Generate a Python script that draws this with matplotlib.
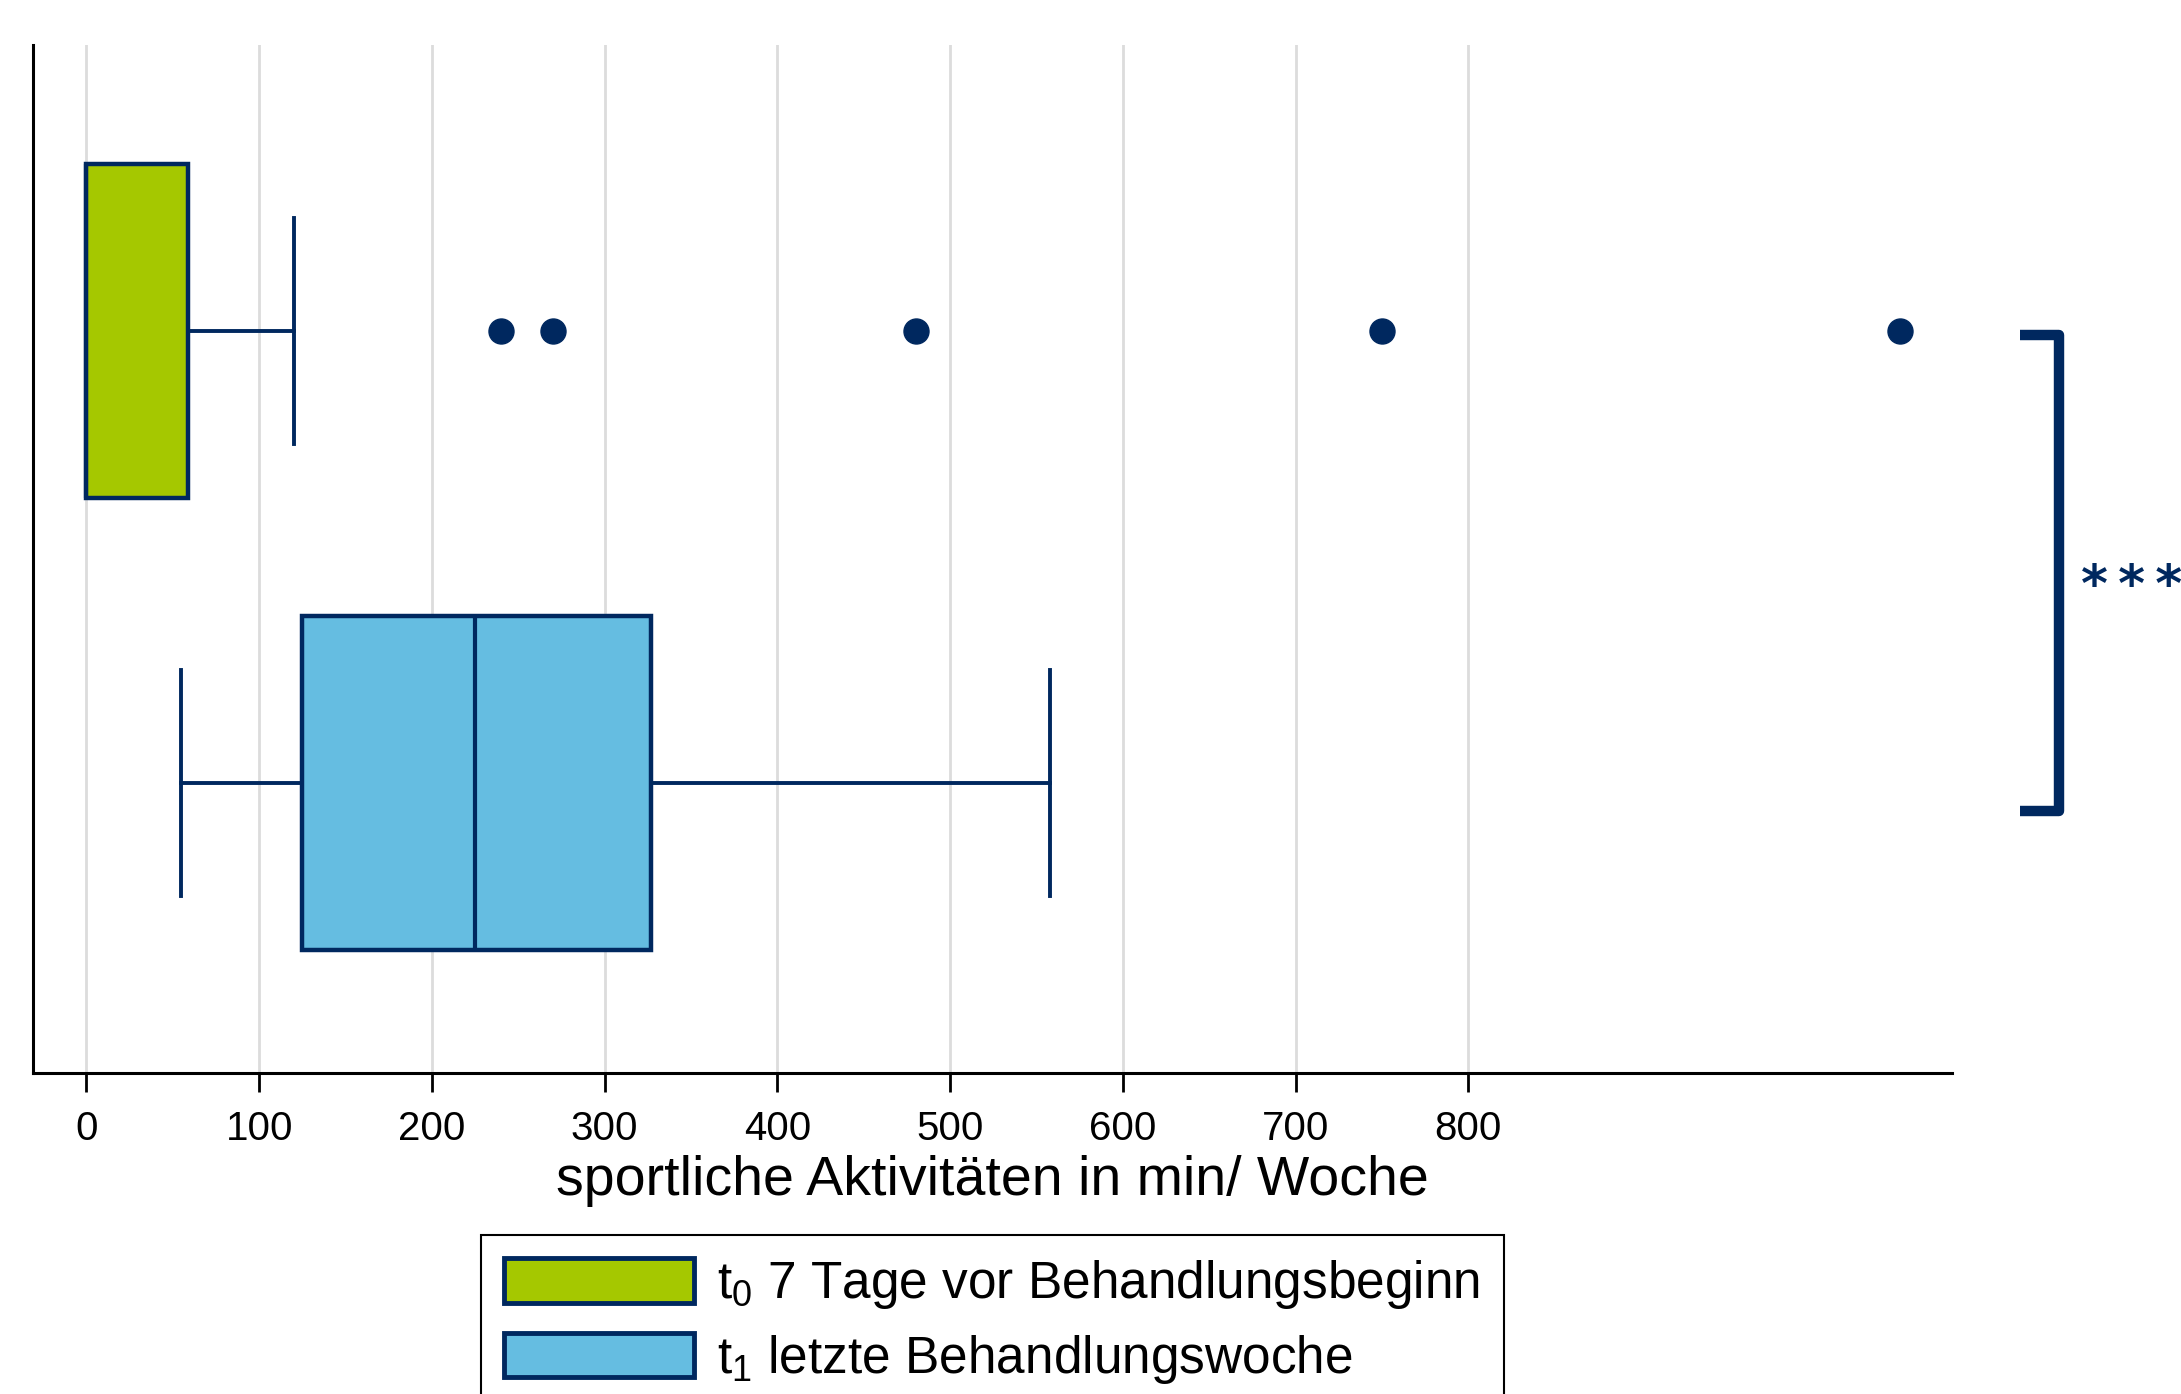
import matplotlib.pyplot as plt
from matplotlib.patches import Patch
from matplotlib.transforms import blended_transform_factory

plt.rcParams["font.family"] = ["Liberation Sans", "DejaVu Sans"]
plt.rcParams["mathtext.fontset"] = "custom"
plt.rcParams["mathtext.rm"] = "Liberation Sans"

# Box statistics (minutes per week)
labels = [r"t$_\mathrm{0}$ 7 Tage vor Behandlungsbeginn",
          r"t$_\mathrm{1}$ letzte Behandlungswoche"]
whisker_low = [0, 55]
q1 = [0, 125]
median = [0, 225]
q3 = [59, 327]
whisker_high = [120, 558]
outliers = [[240, 270, 480, 750, 1050], []]
x_ticks = [0, 100, 200, 300, 400, 500, 600, 700, 800]
x_label = "sportliche Aktivitäten in min/ Woche"
significance = "*\u2009*\u2009*"

navy = "#00285f"
fills = ["#a5c800", "#65bde1"]
grid_grey = "#dcdcdc"

stats = []
for i in range(len(labels)):
    stats.append(dict(label=labels[i], whislo=whisker_low[i], q1=q1[i],
                      med=median[i], q3=q3[i], whishi=whisker_high[i],
                      fliers=outliers[i]))

fig = plt.figure(figsize=(21.81, 13.94), dpi=100)
ax = fig.add_axes([0.0151, 0.2303, 0.8799, 0.7377])

positions = [2, 1]
bp = ax.bxp(stats, positions=positions, widths=0.74, capwidths=0.5,
            orientation="horizontal", patch_artist=True,
            boxprops=dict(edgecolor=navy, linewidth=3.2),
            medianprops=dict(color=navy, linewidth=3),
            whiskerprops=dict(color=navy, linewidth=2.8),
            capprops=dict(color=navy, linewidth=2.8),
            flierprops=dict(marker="o", markerfacecolor=navy,
                            markeredgecolor=navy, markersize=18),
            zorder=3)
for patch, c in zip(bp["boxes"], fills):
    patch.set_facecolor(c)

ax.set_xlim(-31, 1080)
ax.set_ylim(0.358, 2.634)
ax.set_xticks(x_ticks)
ax.set_xticklabels([str(t) for t in x_ticks])
ax.set_yticks([])
ax.tick_params(axis="x", length=14, width=2, pad=13, labelsize=29,
               colors="black")
ax.xaxis.grid(True, color=grid_grey, linewidth=2)
ax.set_axisbelow(True)
for side in ["top", "right"]:
    ax.spines[side].set_visible(False)
for side in ["left", "bottom"]:
    ax.spines[side].set_linewidth(2.2)
    ax.spines[side].set_color("black")
ax.set_xlabel(x_label, fontsize=40, labelpad=5)

# significance bracket to the right of the plot
tr = blended_transform_factory(ax.transAxes, ax.transData)
ax.plot([1.0354, 1.0557, 1.0557, 1.0354], [1.991, 1.991, 0.938, 0.938],
        transform=tr, color=navy, linewidth=7.5, clip_on=False,
        solid_joinstyle="round", solid_capstyle="butt")
ax.text(1.067, 1.433, significance, transform=tr, color=navy, fontsize=37,
        fontweight="bold", family="DejaVu Sans", ha="left", va="center",
        clip_on=False)

handles = [Patch(facecolor=c, edgecolor=navy, linewidth=3.5) for c in fills]
leg = fig.legend(handles, labels, loc="upper center",
                 bbox_to_anchor=(0.455, 0.114), fontsize=37,
                 handlelength=3.7, handleheight=0.96, handletextpad=0.45,
                 labelspacing=0.42, borderpad=0.45, fancybox=False,
                 framealpha=1, edgecolor="black", borderaxespad=0)
leg.get_frame().set_linewidth(1.5)

fig.savefig("out.png", dpi=100)
